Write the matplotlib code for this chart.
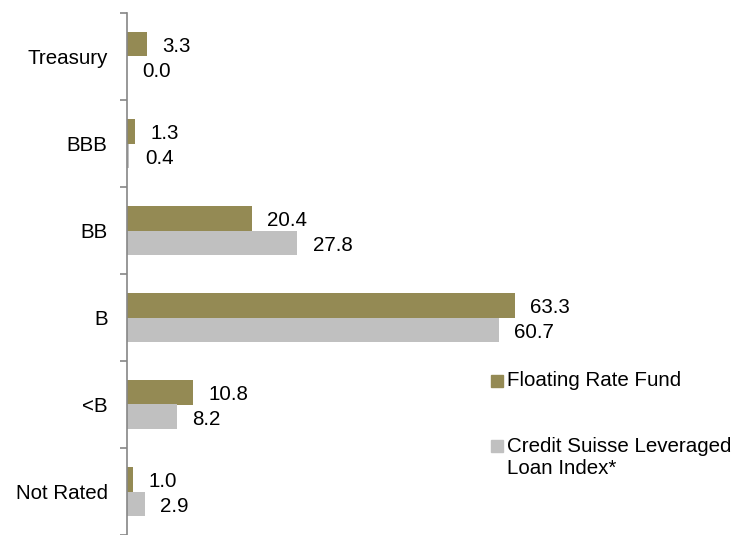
import matplotlib
matplotlib.use("Agg")
import matplotlib.pyplot as plt
from matplotlib.patches import Rectangle
from matplotlib.transforms import offset_copy
import numpy as np

categories = ["Treasury", "BBB", "BB", "B", "<B", "Not Rated"]
fund = [3.3, 1.3, 20.4, 63.3, 10.8, 1.0]
index = [0.0, 0.4, 27.8, 60.7, 8.2, 2.9]
series_names = ["Floating Rate Fund", "Credit Suisse Leveraged", "Loan Index*"]
colors = ["#948A54", "#C0C0C0"]

plt.rcParams['font.family'] = ['Liberation Sans', 'DejaVu Sans']
W, H = 755, 535
fig = plt.figure(figsize=(W/100, H/100), dpi=100)
ax = fig.add_axes([127/W, 0/H, 613/W, 522/H])

n = len(categories)
y = np.arange(n)
bh = 0.28
ax.barh(y - bh/2, fund, height=bh, color=colors[0])
ax.barh(y + bh/2, index, height=bh, color=colors[1])
fs = 14.8
tr = offset_copy(ax.transData, fig=fig, x=0, y=-2.5, units='dots')
for i in range(n):
    ax.text(fund[i] + 2.5, y[i] - bh/2, f"{fund[i]:.1f}", va='center', ha='left', fontsize=fs, transform=tr)
    ax.text(index[i] + 2.5, y[i] + bh/2, f"{index[i]:.1f}", va='center', ha='left', fontsize=fs, transform=tr)

ax.set_xlim(0, 100)
ax.set_ylim(n - 0.5, -0.5)
for s in ['top', 'right', 'bottom']:
    ax.spines[s].set_visible(False)
ax.spines['left'].set_color('#868686')
ax.spines['left'].set_linewidth(1.2)
ax.set_xticks([])
ax.set_yticks(np.arange(n + 1) - 0.5)
ax.set_yticklabels([])
ax.tick_params(axis='y', which='major', length=5, color='#868686', width=1.2)
ax.set_yticks(y, minor=True)
ax.set_yticklabels(categories, minor=True, fontsize=fs)
ax.tick_params(axis='y', which='minor', length=0, pad=14)

# legend
def sq(top, c):
    fig.patches.append(Rectangle((491/W, 1 - (top + 12)/H), 12/W, 12/H,
                                 transform=fig.transFigure, color=c, figure=fig))
sq(375, colors[0])
sq(440, colors[1])
fig.text(507/W, 1 - 381/H, series_names[0], fontsize=fs, va='center', ha='left')
fig.text(507/W, 1 - 446/H, series_names[1], fontsize=fs, va='center', ha='left')
fig.text(507/W, 1 - 469/H, series_names[2], fontsize=fs, va='center', ha='left')

fig.savefig("out.png", dpi=100)
